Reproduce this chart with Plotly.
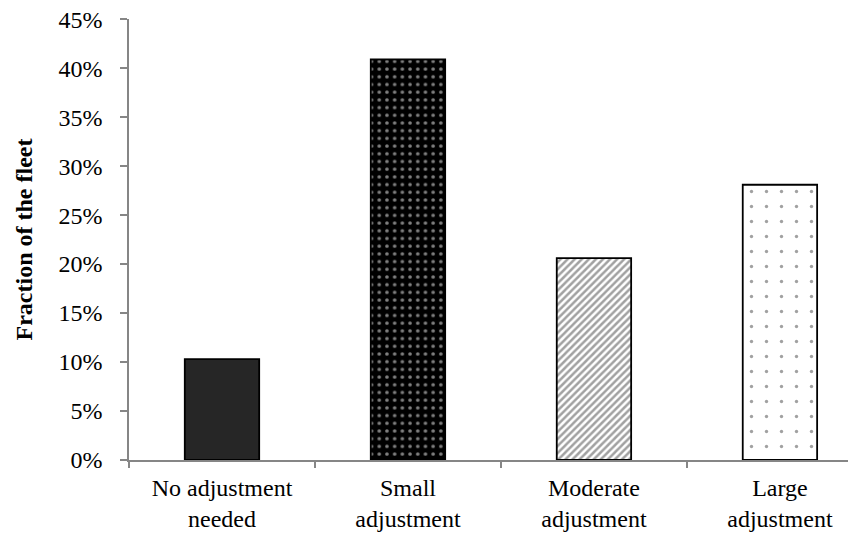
import plotly.graph_objects as go

categories = ["No adjustment<br>needed", "Small<br>adjustment",
              "Moderate<br>adjustment", "Large<br>adjustment"]
fractions = [0.103, 0.409, 0.206, 0.281]
tick_vals = [0, 0.05, 0.10, 0.15, 0.20, 0.25, 0.30, 0.35, 0.40, 0.45]

font = "Liberation Serif"
axis_grey = "#868686"

# per-bar fill styles: background, pattern shape, foreground, tile size, solidity
bg_colors = ["#262626", "#000000", "#ffffff", "#ffffff"]
shapes = ["", ".", "/", "."]
fg_colors = ["#262626", "#ffffff", "#262626", "#222222"]
sizes = [8, 7.7, 5, 15]
solidities = [0.3, 0.17, 0.5, 0.04]

fig = go.Figure(go.Bar(
    x=categories,
    y=fractions,
    width=0.4,
    marker=dict(color=bg_colors,
                pattern=dict(shape=shapes, fgcolor=fg_colors, bgcolor=bg_colors,
                             size=sizes, solidity=solidities,
                             fillmode="overlay"),
                line=dict(color="#000000", width=1.8)),
))

fig.update_layout(
    width=856, height=538,
    paper_bgcolor="white", plot_bgcolor="white",
    font=dict(family=font, size=24, color="#000"),
    margin=dict(l=121, r=0, t=11, b=86),
    showlegend=False,
    xaxis=dict(range=[-0.5, 3.452], showline=True, linecolor=axis_grey,
               linewidth=1.5, ticks="outside", tickson="boundaries",
               tickcolor=axis_grey, ticklen=6, tickwidth=1.5,
               ticklabelstandoff=5,
               showgrid=False, automargin=False, tickfont=dict(size=24)),
    yaxis=dict(range=[0, 0.4502], tickvals=tick_vals, tickformat=".0%",
               showline=True, linecolor=axis_grey, linewidth=1.5,
               ticks="outside", tickcolor=axis_grey, ticklen=7, tickwidth=1.5,
               ticklabelstandoff=13, ticklabeloverflow="allow",
               showgrid=False, zeroline=False, automargin=False,
               tickfont=dict(size=24),
               title=dict(text="<b>Fraction of the fleet</b>",
                          font=dict(size=24), standoff=19)),
)

fig.write_html("out.html")
